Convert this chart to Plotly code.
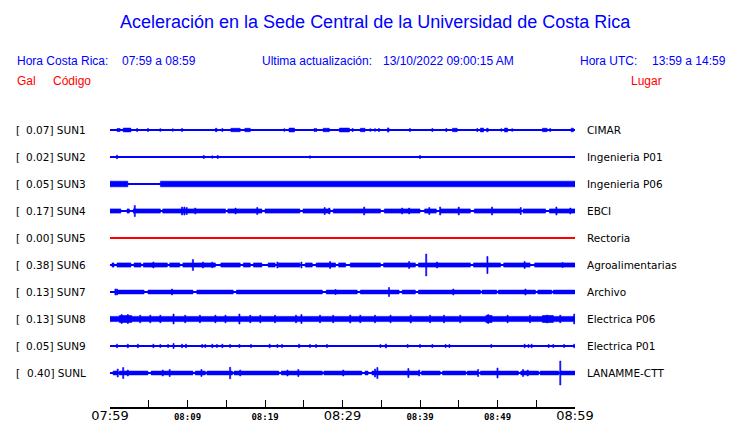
import plotly.graph_objects as go

# ---------------- data ----------------
codes = ["SUN1", "SUN2", "SUN3", "SUN4", "SUN5", "SUN6", "SUN7", "SUN8", "SUN9", "SUNL"]
peak_gal = ["0.07", "0.02", "0.05", "0.17", "0.00", "0.38", "0.13", "0.13", "0.05", "0.40"]
places = ["CIMAR", "Ingenieria P01", "Ingenieria P06", "EBCI", "Rectoria",
          "Agroalimentarias", "Archivo", "Electrica P06", "Electrica P01", "LANAMME-CTT"]

# time axis: minutes after 07:59
tick_minutes = [0, 5, 10, 15, 20, 25, 30, 35, 40, 45, 50, 55, 60]
tick_labels = ["07:59", "", "08:09", "", "08:19", "", "08:29", "", "08:39", "", "08:49", "", "08:59"]
major_labels = ["07:59", "08:29", "08:59"]

# envelopes: (start_min, end_min, half_amplitude) and spikes (min, half_amplitude)
sun1_bands = [(0.9, 1.3, 1.5), (1.7, 2.7, 1.9), (13.6, 13.8, 1.7), (15.6, 16.8, 1.7), (17.4, 18.1, 1.7),
              (23.1, 23.8, 1.9), (27.5, 28.3, 1.7), (29.6, 30.9, 1.9), (32.3, 32.9, 1.7), (35.8, 36.0, 2.1),
              (44.2, 44.8, 1.7), (47.8, 48.2, 1.9), (48.6, 48.8, 1.7), (50.9, 51.3, 1.9), (55.8, 56.4, 1.7),
              (59.5, 59.8, 1.8)]
sun1_spikes = [(3.5, 1.5), (4.9, 1.5), (6.5, 1.3), (8.1, 1.2), (9.3, 1.6), (14.5, 1.5), (22.5, 1.3),
               (26.4, 1.5), (26.6, 1.5), (31.3, 1.5), (33.6, 1.3), (34.2, 1.3), (34.7, 1.5), (38.7, 1.5),
               (41.6, 1.5), (43.4, 1.5), (47.4, 1.5), (50.5, 1.3), (51.9, 1.3), (56.8, 1.5)]

sun2_bands = []
sun2_spikes = [(0.9, 1.8), (12.1, 1.5), (13.2, 1.2), (13.9, 1.5), (25.8, 1.2), (40.0, 1.5)]

sun3_bands = [(0.0, 2.3, 2.8), (6.5, 60.0, 2.8)]
sun3_spikes = []

sun4_bands = [(0.0, 1.4, 2.1), (2.2, 2.5, 2.1), (3.0, 6.5, 2.1), (6.8, 14.9, 2.1), (15.2, 19.6, 2.1),
              (20.0, 24.5, 2.1), (24.9, 28.4, 2.1), (28.8, 34.9, 2.1), (35.4, 40.0, 2.1), (40.6, 42.1, 2.1),
              (42.6, 46.5, 2.1), (47.0, 53.0, 2.1), (53.3, 56.2, 2.1), (56.7, 60.0, 2.1)]
sun4_spikes = [(3.2, 5.5), (9.3, 4.0), (9.6, 4.0), (9.9, 3.5), (11.0, 3.0), (16.2, 3.0), (19.0, 3.5),
               (27.7, 3.5), (28.3, 3.0), (32.8, 4.0), (37.7, 3.0), (38.6, 3.0), (41.2, 3.5), (42.6, 4.0),
               (45.0, 4.0), (49.3, 4.0), (53.0, 3.5), (57.6, 4.0), (59.4, 3.0)]

sun5_bands = []
sun5_spikes = []

sun6_bands = [(0.26, 0.52, 2.1), (0.9, 2.7, 2.1), (3.1, 4.0, 2.1), (4.3, 7.4, 2.1), (7.7, 9.0, 2.1),
              (9.4, 13.6, 2.1), (14.3, 16.8, 2.1), (17.2, 18.1, 2.1), (18.5, 19.6, 2.1), (20.4, 21.3, 2.1),
              (21.7, 24.5, 2.1), (25.2, 26.1, 2.1), (26.6, 29.1, 2.1), (29.5, 30.4, 2.1), (31.0, 34.9, 2.1),
              (35.3, 39.4, 2.1), (39.8, 46.5, 2.1), (46.9, 50.4, 2.1), (50.8, 54.2, 2.1), (54.8, 60.0, 2.1)]
sun6_spikes = [(5.6, 3.0), (10.7, 5.5), (12.0, 3.0), (13.2, 2.8), (21.6, 3.0), (24.7, 3.0), (28.4, 3.5),
               (38.6, 3.5), (40.8, 11.0), (42.2, 3.0), (48.7, 8.5), (53.5, 3.5), (58.4, 2.5)]

sun7_bands = [(0.9, 4.4, 1.9), (4.9, 10.7, 1.9), (11.2, 15.9, 1.9), (16.3, 27.4, 1.9), (27.9, 31.9, 1.9),
              (32.3, 37.3, 1.9), (37.7, 39.4, 1.9), (39.8, 47.8, 1.9), (48.0, 49.9, 1.9), (50.1, 54.9, 1.9),
              (55.2, 57.0, 1.9), (57.2, 60.0, 1.9)]
sun7_spikes = [(0.7, 3.0), (0.9, 3.0), (8.0, 3.0), (29.1, 2.5), (36.0, 4.5), (44.3, 3.0), (53.6, 3.0)]

sun8_bands = [(0.0, 60.0, 2.6), (1.2, 2.8, 3.4), (48.5, 49.3, 3.5), (55.8, 57.2, 3.5)]
sun8_spikes = [(1.5, 4.5), (2.3, 4.5), (3.9, 3.8), (5.2, 3.8), (6.5, 3.8), (8.2, 5.0), (9.7, 3.8),
               (11.6, 3.8), (13.6, 3.8), (14.9, 3.8), (16.7, 5.0), (18.1, 3.8), (19.4, 3.8), (21.3, 3.8),
               (24.0, 3.8), (24.7, 4.5), (27.1, 3.8), (28.8, 3.8), (31.0, 4.0), (32.3, 3.8), (34.2, 3.8),
               (36.2, 3.8), (38.8, 4.0), (41.3, 3.8), (43.1, 3.8), (45.2, 3.8), (48.8, 4.5), (51.3, 3.8),
               (54.2, 3.8), (56.4, 4.0), (58.1, 3.8), (59.9, 5.0)]

sun9_bands = []
sun9_spikes = [(0.9, 1.8), (2.3, 1.8), (3.6, 1.8), (5.6, 1.8), (6.5, 1.5), (7.5, 1.5), (8.2, 2.5), (9.3, 1.8),
               (9.8, 1.8), (11.9, 1.5), (12.3, 1.5), (13.2, 1.8), (13.8, 1.5), (14.5, 1.8), (15.5, 1.5),
               (16.7, 1.5), (18.2, 1.5), (20.6, 1.8), (21.6, 1.5), (22.2, 1.5), (24.4, 1.8), (25.8, 1.5),
               (26.6, 1.5), (28.0, 1.5), (34.9, 1.5), (35.6, 2.0), (38.4, 1.5), (40.0, 1.5), (41.6, 1.5),
               (43.3, 1.5), (43.8, 1.5), (49.2, 1.5), (53.5, 1.8), (54.0, 1.5), (54.4, 1.8), (56.6, 1.5),
               (57.2, 1.5), (58.6, 1.5), (59.9, 1.8)]

sunl_bands = [(0.4, 1.0, 1.9), (1.2, 4.9, 1.9), (5.3, 10.7, 1.9), (11.0, 12.3, 1.9), (12.5, 15.8, 1.9),
              (16.0, 21.8, 1.9), (22.1, 27.4, 1.9), (27.6, 32.5, 1.9), (32.9, 33.3, 1.9), (33.8, 39.9, 1.9),
              (40.2, 42.6, 1.9), (42.9, 45.9, 1.9), (46.1, 47.5, 1.9), (47.8, 52.7, 1.9), (53.0, 55.3, 1.9),
              (55.5, 57.9, 1.9), (58.1, 60.0, 1.9)]
sunl_spikes = [(1.0, 4.0), (1.7, 5.5), (2.3, 3.0), (6.8, 3.0), (7.7, 3.5), (11.8, 3.5), (15.5, 5.8),
               (16.8, 3.0), (22.9, 3.0), (24.3, 3.5), (30.1, 3.0), (34.2, 4.0), (34.5, 5.5), (38.5, 4.5),
               (39.9, 3.0), (47.5, 3.5), (50.0, 5.0), (53.3, 3.5), (53.9, 3.0), (58.1, 12.0)]

all_bands = [sun1_bands, sun2_bands, sun3_bands, sun4_bands, sun5_bands,
             sun6_bands, sun7_bands, sun8_bands, sun9_bands, sunl_bands]
all_spikes = [sun1_spikes, sun2_spikes, sun3_spikes, sun4_spikes, sun5_spikes,
              sun6_spikes, sun7_spikes, sun8_spikes, sun9_spikes, sunl_spikes]

# ---------------- styling / layout ----------------
BLUE = "#0000ff"
RED = "#ff0000"
trace_colors = [BLUE, BLUE, BLUE, BLUE, RED, BLUE, BLUE, BLUE, BLUE, BLUE]

W, H = 740, 423
L, R, T, B = 110, 165, 115, 16
PW, PH = W - L - R, H - T - B
TOP_OFFSET, SPACING = 277, 27
SPIKE_HALF_WIDTH = 0.07


def paper_x(p):
    return (p - L) / PW


def paper_y(p):
    return (H - B - p) / PH


fig = go.Figure()

for i, code in enumerate(codes):
    y0 = TOP_OFFSET - SPACING * i
    col = trace_colors[i]
    fig.add_trace(go.Scatter(x=[0, 60], y=[y0, y0], mode="lines",
                             line=dict(color=col, width=2), hoverinfo="skip", showlegend=False))
    segs = list(all_bands[i]) + [(t - SPIKE_HALF_WIDTH, t + SPIKE_HALF_WIDTH, a) for t, a in all_spikes[i]]
    if segs:
        xs, ys = [], []
        for t0, t1, a in segs:
            xs += [t0, t1, t1, t0, t0, None]
            ys += [y0 - a, y0 - a, y0 + a, y0 + a, y0 - a, None]
        fig.add_trace(go.Scatter(x=xs, y=ys, mode="lines", fill="toself", fillcolor=col,
                                 line=dict(color=col, width=0.6), hoverinfo="skip", showlegend=False))

ticktext = []
for lab in tick_labels:
    if lab in major_labels:
        ticktext.append('<span style="font-family:DejaVu Sans;font-size:13px">' + lab + "</span>")
    elif lab:
        ticktext.append("<b>" + lab + "</b>")
    else:
        ticktext.append("")

fig.update_xaxes(range=[0, 60], tickvals=tick_minutes, ticktext=ticktext, ticks="inside", ticklen=7,
                 tickwidth=1, tickcolor="black", showline=True, linecolor="black", linewidth=1.5,
                 showgrid=False, zeroline=False, automargin=False, ticklabelstandoff=0,
                 tickfont=dict(family="DejaVu Sans Mono", size=9, color="black"))
fig.update_yaxes(range=[0, PH], visible=False, showgrid=False, zeroline=False, automargin=False)

ann = []
hdr_font = dict(family="Liberation Sans, Arial", size=12, color=BLUE)
red_font = dict(family="Liberation Sans, Arial", size=12, color=RED)
lab_font = dict(family="DejaVu Sans", size=10.5, color="black")


def add_text(text, x, y, font, anchor="left"):
    ann.append(dict(text=text, x=paper_x(x), y=paper_y(y), xref="paper", yref="paper",
                    xanchor=anchor, yanchor="middle", showarrow=False, font=font))


add_text("Aceleración en la Sede Central de la Universidad de Costa Rica", 375, 22,
         dict(family="Liberation Sans, Arial", size=18, color=BLUE), "center")
add_text("Hora Costa Rica:", 15, 61, hdr_font)
add_text("07:59 a 08:59", 120, 61, hdr_font)
add_text("Ultima actualización:", 260, 61, hdr_font)
add_text("13/10/2022 09:00:15 AM", 381, 61, hdr_font)
add_text("Hora UTC:", 578, 61, hdr_font)
add_text("13:59 a 14:59", 650, 61, hdr_font)
add_text("Gal", 15, 81, red_font)
add_text("Código", 51, 81, red_font)
add_text("Lugar", 629, 81, red_font)

for i, code in enumerate(codes):
    yp = 130 + SPACING * i
    add_text("[", 14, yp, lab_font)
    add_text(peak_gal[i] + "] " + code, 88, yp, lab_font, "right")
    add_text(places[i], 585, yp, lab_font)

fig.update_layout(width=W, height=H, margin=dict(l=L, r=R, t=T, b=B, autoexpand=False),
                  paper_bgcolor="white", plot_bgcolor="white", annotations=ann, showlegend=False)

fig.write_html("out.html", config={"displayModeBar": False},
               post_script="document.body.style.margin='0';")
